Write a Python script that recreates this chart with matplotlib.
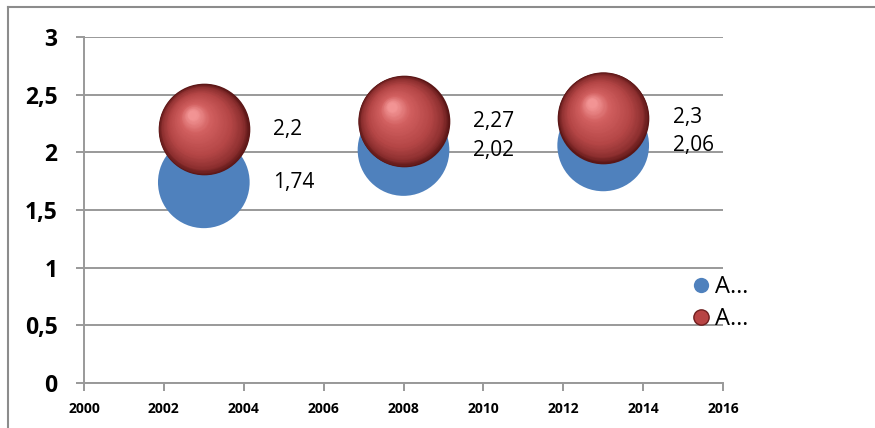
import numpy as np
import matplotlib.pyplot as plt
import matplotlib.transforms as mtransforms
from matplotlib.colors import LinearSegmentedColormap
from matplotlib.lines import Line2D

# data
years = [2003, 2008, 2013]
series_a = [1.74, 2.02, 2.06]
series_b = [2.2, 2.27, 2.3]
bubble_size = [1, 1, 1]
legend_labels = ["A…", "A…"]

BLUE = "#4f81bd"
GRID = "#999999"
FONT = ["Open Sans", "DejaVu Sans"]

# shading for the "3d" red spheres, dark rim -> light highlight
sphere_cmap = LinearSegmentedColormap.from_list(
    "sphere", [(0.0, "#5a1616"), (0.12, "#8e3030"), (0.35, "#b44646"),
               (0.75, "#d26060"), (1.0, "#f29494")])


def draw_spheres(ax, x, y, diam_pt, zorder, layers=60):
    """
    Draw shaded spheres as stacked circles, shifting toward the highlight.
    """
    R = diam_pt / 2.0
    for i in range(layers):
        t = i / (layers - 1)
        r = R * (1 - 0.9 * t)
        dx = -0.25 * R * t
        dy = 0.32 * R * t
        trans = mtransforms.offset_copy(ax.transData, fig=ax.figure, x=dx, y=dy, units="points")
        ax.scatter(x, y, s=(2 * r) ** 2, color=sphere_cmap(t), linewidths=0,
                   transform=trans, zorder=zorder + i * 0.001)


fig = plt.figure(figsize=(8.75, 4.28), dpi=100)
ax = fig.add_axes([84 / 875, 1 - 383 / 428, (723 - 84) / 875, (383 - 37) / 428])

diam = 66  # points
sizes_a = [diam ** 2 * b for b in bubble_size]
ax.scatter(years, series_a, s=sizes_a, color=BLUE, linewidths=0, zorder=3)
draw_spheres(ax, years, series_b, diam, zorder=4)

# data labels to the right of bubbles
for x, a, b in zip(years, series_a, series_b):
    for v in (a, b):
        ax.annotate(str(v).replace(".", ","), (x, v), xytext=(50, 0), textcoords="offset points",
                    ha="left", va="center", fontsize=15, family=FONT, color="black", zorder=6)

ax.set_xlim(2000, 2016)
ax.set_ylim(0, 3)
ax.set_xticks(np.arange(2000, 2017, 2))
ax.set_yticks(np.arange(0, 3.01, 0.5))
ax.set_yticklabels([("%g" % v).replace(".", ",") for v in np.arange(0, 3.01, 0.5)])
for lab in ax.get_yticklabels():
    lab.set_fontsize(16.5)
    lab.set_fontweight("bold")
    lab.set_family(FONT)
for lab in ax.get_xticklabels():
    lab.set_fontsize(10)
    lab.set_fontweight("bold")
    lab.set_family(FONT)

ax.yaxis.grid(True, color=GRID, linewidth=1.4, zorder=0)
ax.set_axisbelow(True)
for s in ("top", "right"):
    ax.spines[s].set_visible(False)
for s in ("left", "bottom"):
    ax.spines[s].set_color(GRID)
    ax.spines[s].set_linewidth(1.4)
ax.tick_params(axis="y", length=6, width=1.4, color=GRID, pad=13)
ax.tick_params(axis="x", length=6, width=1.4, color=GRID, pad=8)

# legend
handles = [
    Line2D([], [], marker="o", linestyle="none", markersize=11, markerfacecolor=BLUE, markeredgewidth=0),
    Line2D([], [], marker="o", linestyle="none", markersize=11, markerfacecolor="#b84444",
           markeredgecolor="#6e1e1e", markeredgewidth=1),
]
fig.legend(handles, legend_labels, loc="center left", bbox_to_anchor=(668 / 875, 1 - 303 / 428),
           frameon=False, handletextpad=0.1, labelspacing=0.35, handlelength=1.0,
           prop={"family": FONT, "size": 17})

# chart border
fig.add_artist(Line2D([8 / 875, 8 / 875], [0, 1 - 7 / 428], color="#8c8c8c", linewidth=1.5))
fig.add_artist(Line2D([8 / 875, 1], [1 - 7 / 428, 1 - 7 / 428], color="#8c8c8c", linewidth=1.5))

fig.savefig("out.png", dpi=100)
